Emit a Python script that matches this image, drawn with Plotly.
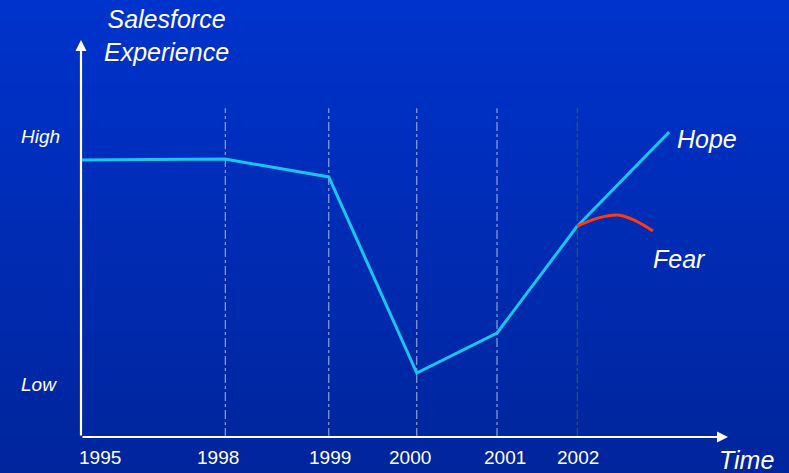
import plotly.graph_objects as go

# Timeline: year labels and their positions along the horizontal axis (0-100 units)
years = ["1995", "1998", "1999", "2000", "2001", "2002"]
year_pos = [0, 22.3, 38.3, 51.9, 64.3, 76.7]

# Salesforce experience level (0-100 scale) at each year
experience = [69.8, 70.0, 65.5, 16.1, 26.2, 53.1]

# Two possible futures after 2002
hope_x = [76.7, 90.9]
hope_y = [53.1, 76.8]
fear_x = [76.7, 80.0, 83.0, 85.8, 88.4]
fear_y = [53.1, 55.2, 55.9, 54.4, 51.9]

level_labels = ["High", "Low"]
level_pos = [75.6, 13.1]

W, H = 789, 473
ML, MR, MT, MB = 81, 61, 40, 36
PW, PH = W - ML - MR, H - MT - MB
FONT = "Liberation Sans, Arial, sans-serif"
CYAN = "#19c6f2"


def px_x(p):
    """Horizontal page pixel -> paper units."""
    return (p - ML) / PW


def px_y(p):
    """Vertical page pixel (from top) -> paper units."""
    return (H - MB - p) / PH


fig = go.Figure()

fig.add_trace(go.Scatter(x=year_pos, y=experience, mode="lines",
                         line=dict(color=CYAN, width=3), hoverinfo="skip"))
fig.add_trace(go.Scatter(x=hope_x, y=hope_y, mode="lines",
                         line=dict(color=CYAN, width=3), hoverinfo="skip"))
fig.add_trace(go.Scatter(x=fear_x, y=fear_y, mode="lines",
                         line=dict(color="#ff3a10", width=3, shape="spline", smoothing=1.0),
                         hoverinfo="skip"))

shapes = []
# vertical gradient background, drawn as thin horizontal bands
top_c = (0, 51, 204)
bot_c = (0, 37, 156)
n = 90
for i in range(n):
    t = i / (n - 1)
    c = tuple(round(top_c[k] + (bot_c[k] - top_c[k]) * t) for k in range(3))
    shapes.append(dict(type="rect", xref="paper", yref="paper", x0=px_x(0), x1=px_x(W),
                       y0=px_y((i + 1) * H / n) - 0.002, y1=px_y(i * H / n),
                       layer="below", line=dict(width=0),
                       fillcolor="rgb(%d,%d,%d)" % c))

# dash-dot guides at each year after the start
for i, xp in enumerate(year_pos[1:]):
    col = "#1f6e4e" if years[i + 1] == "2002" else "#aab8ee"
    shapes.append(dict(type="line", xref="x", yref="y", x0=xp, x1=xp, y0=0, y1=82.8,
                       line=dict(color=col, width=1, dash="dashdot"), layer="below"))

annotations = []
# axes drawn as arrows
annotations.append(dict(x=0, y=100, ax=0, ay=0, xref="x", yref="y", axref="x", ayref="y",
                        showarrow=True, arrowhead=2, arrowsize=1, arrowwidth=2.2,
                        arrowcolor="white", text=""))
annotations.append(dict(x=100, y=0, ax=0, ay=0, xref="x", yref="y", axref="x", ayref="y",
                        showarrow=True, arrowhead=2, arrowsize=1, arrowwidth=2.2,
                        arrowcolor="white", text=""))

label_shift = [19, -7, 1, -7, 8, 1]
for yr, xp, dx in zip(years, year_pos, label_shift):
    annotations.append(dict(x=xp, y=0, xref="x", yref="y", text=yr, showarrow=False,
                            xshift=dx, yshift=-20, font=dict(family=FONT, size=19, color="white")))

for lab, yp in zip(level_labels, level_pos):
    annotations.append(dict(x=px_x(19), y=yp, xref="paper", yref="y",
                            text="<i>%s</i>" % lab, showarrow=False,
                            xanchor="left", yanchor="middle",
                            font=dict(family=FONT, size=19, color="white")))


def free_text(text, x, y, xanchor):
    return dict(x=px_x(x), y=px_y(y), xref="paper", yref="paper", text=text,
                showarrow=False, xanchor=xanchor, yanchor="middle",
                font=dict(family=FONT, size=25, color="white"))


annotations.append(free_text("<i>Salesforce<br>Experience</i>", 166, 36, "center"))
annotations.append(free_text("<i>Time</i>", 717, 460, "left"))
annotations.append(free_text("<i>Hope</i>", 675, 139, "left"))
annotations.append(free_text("<i>Fear</i>", 651, 259, "left"))

fig.update_layout(
    width=W, height=H,
    margin=dict(l=ML, r=MR, t=MT, b=MB),
    paper_bgcolor="#002cb0", plot_bgcolor="rgba(0,0,0,0)",
    showlegend=False,
    xaxis=dict(range=[0, 100], visible=False, fixedrange=True),
    yaxis=dict(range=[0, 100], visible=False, fixedrange=True),
    shapes=shapes, annotations=annotations,
)

fig.write_html("out.html", config={"displayModeBar": False})
